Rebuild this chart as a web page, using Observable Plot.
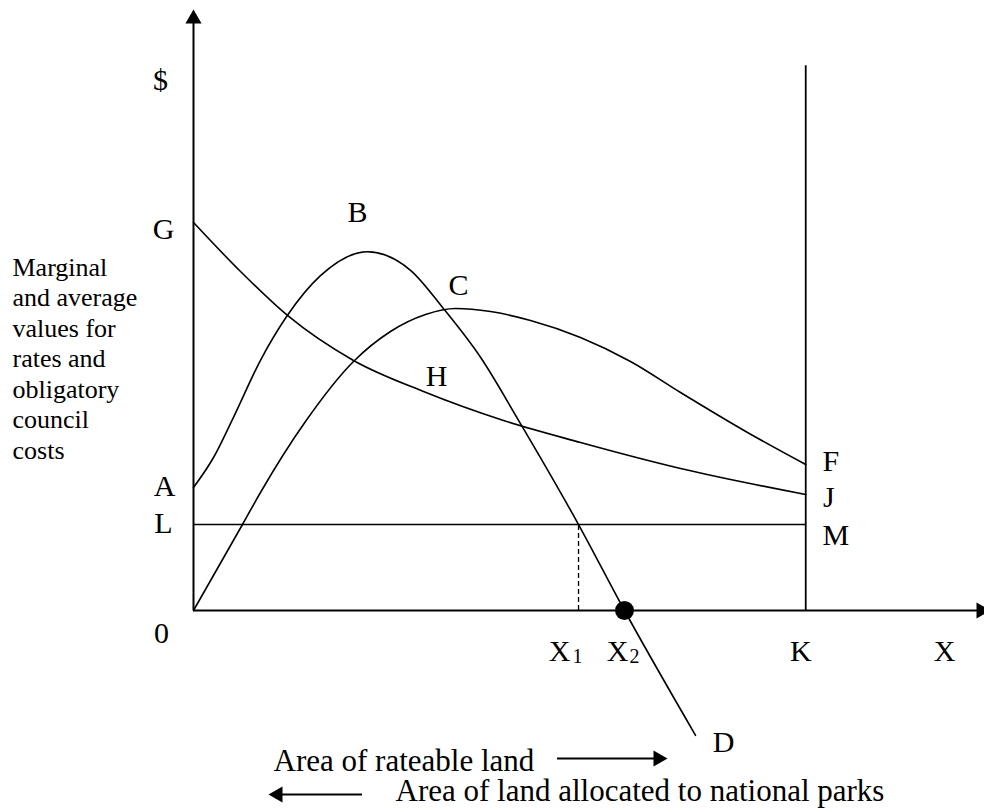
<!DOCTYPE html>
<html>
<head>
<meta charset="utf-8">
<script src="https://cdn.jsdelivr.net/npm/d3@7"></script>
<script src="https://cdn.jsdelivr.net/npm/@observablehq/plot@0.6"></script>
<style>
  html, body { margin: 0; padding: 0; background: #fff; overflow: hidden; }
</style>
</head>
<body>
<div id="chart"></div>
<script>
// ---- Data (arbitrary conceptual units) ----
// Marginal curve A – B – D
const marginalX = [0, 3.27, 6.53, 10.94, 15.35, 20.74, 28.42, 35.45, 40.84, 46.88, 53.09, 62.89, 70.4, 82.0];
const marginalY = [20.5, 25.5, 32.2, 41.7, 49.2, 55.8, 59.8, 56.7, 50.3, 42.2, 31.7, 14.33, 0, -20.8];
// Average curve 0 – C – F
const averageX = [0, 8.0, 10.94, 18.29, 26.13, 32.18, 37.9, 42.8, 48.51, 55.05, 63.21, 71.38, 79.55, 90.49, 100];
const averageY = [0, 14.33, 19.67, 31.5, 41.5, 46.5, 49.33, 50.33, 49.83, 48.33, 45.5, 41.5, 36.33, 29.67, 24.33];
// Cost curve G – H – J
const costX = [0, 7.68, 15.35, 26.13, 37.57, 50.64, 63.21, 79.55, 100];
const costY = [64.67, 56.5, 49.17, 41.67, 36.5, 31.67, 28.0, 23.67, 19.33];
// Levels and positions
const levelL = 14.33;        // L – M
const xK = 100;              // K
const kTop = 90.8;           // top of vertical line at K
const xX1 = 62.89;           // X1
const xX2 = 70.4;            // X2
const xEnd = 129.2;          // x-axis extent
const yEnd = 100;            // y-axis extent
// Tick labels on the x axis
const tickNames = ["X", "X", "K", "X"];
const tickSubs = ["1", "2", "", ""];
const tickValues = [xX1, xX2, xK, xEnd];
// Texts
const yTitle = "Marginal\nand average\nvalues for\nrates and\nobligatory\ncouncil\ncosts";
const arrowTexts = ["Area of rateable land", "Area of land allocated to national parks"];

// ---- Build ----
const pts = (xs, ys) => xs.map((x, i) => ({x, y: ys[i]}));
const marginal = pts(marginalX, marginalY);
const average = pts(averageX, averageY);
const cost = pts(costX, costY);
const serif = "'Liberation Serif','Times New Roman',serif";
const peakM = marginal[marginalY.indexOf(d3.max(marginalY))];
const peakA = average[averageY.indexOf(d3.max(averageY))];

function label(t, x, y, dx, dy, size = 30, anchor = "middle") {
  return Plot.text([{x, y}], {x: "x", y: "y", text: () => t, dx, dy, fontSize: size,
    textAnchor: anchor, lineAnchor: "middle", fontFamily: serif, fill: "black"});
}

const tickDx = [-19, -7, -5, -40];
const subDx = [-1, 10, 0, 0];

const marks = [
  // axes
  Plot.ruleX([0], {y1: 0, y2: 98.6, stroke: "black", strokeWidth: 2}),
  Plot.ruleY([0], {x1: 0, x2: 128.6, stroke: "black", strokeWidth: 2}),
  Plot.dot([{x: 0, y: 98.6}], {x: "x", y: "y", symbol: "triangle", r: 6, fill: "black", stroke: null}),
  Plot.dot([{x: 128.66, y: 0}], {x: "x", y: "y", symbol: "triangle", r: 6, fill: "black", stroke: null, rotate: 90}),
  // K vertical, L-M horizontal, dashed X1
  Plot.ruleX([xK], {y1: 0, y2: kTop, stroke: "black", strokeWidth: 1.8}),
  Plot.ruleY([levelL], {x1: 0, x2: xK, stroke: "black", strokeWidth: 1.6}),
  Plot.ruleX([xX1], {y1: 0, y2: levelL, stroke: "black", strokeWidth: 1.3, strokeDasharray: "5,3"}),
  // curves
  Plot.line(cost, {x: "x", y: "y", curve: "monotone-x", stroke: "black", strokeWidth: 1.6}),
  Plot.line(average, {x: "x", y: "y", curve: "monotone-x", stroke: "black", strokeWidth: 1.6}),
  Plot.line(marginal, {x: "x", y: "y", curve: "monotone-x", stroke: "black", strokeWidth: 1.6}),
  // X2 point
  Plot.dot([{x: xX2, y: 0}], {x: "x", y: "y", r: 9.5, fill: "black", stroke: null}),
  // point labels
  label("$", 0, yEnd, -33, 70),
  label("G", 0, costY[0], -30, 7),
  label("A", 0, marginalY[0], -29, -1),
  label("L", 0, levelL, -30, -1),
  label("0", 0, 0, -32, 23),
  label("B", peakM.x, peakM.y, -10, -39),
  label("C", peakA.x, peakA.y, 3, -23),
  label("H", costX[4], costY[4], 13, -15),
  label("D", marginalX[marginalX.length - 1], marginalY[marginalY.length - 1], 28, 7),
  label("F", xK, averageY[averageY.length - 1], 25, -3),
  label("J", xK, costY[costY.length - 1], 23, 3),
  label("M", xK, levelL, 30, 11),
  // x tick labels
  ...tickNames.map((t, i) => label(t, tickValues[i], 0, tickDx[i], 41)),
  ...tickSubs.map((t, i) => t ? label(t, tickValues[i], 0, subDx[i], 46, 20) : null).filter(Boolean),
  // y title
  Plot.text([yTitle], {frameAnchor: "left", dx: -181, dy: 47, textAnchor: "start", lineAnchor: "middle",
    lineHeight: 1.173, fontSize: 26, fontFamily: serif, fill: "black"}),
  // bottom arrows + texts
  Plot.text([arrowTexts[0]], {frameAnchor: "bottom-left", dx: 80, dy: 151, textAnchor: "start", lineAnchor: "middle",
    fontSize: 31, fontFamily: serif, fill: "black"}),
  Plot.text([arrowTexts[1]], {frameAnchor: "bottom-left", dx: 202, dy: 181, textAnchor: "start", lineAnchor: "middle",
    fontSize: 31, fontFamily: serif, fill: "black"}),
  Plot.ruleY([-24.67], {x1: 59.46, x2: 75.9, stroke: "black", strokeWidth: 2}),
  Plot.dot([{x: 75.9, y: -24.67}], {x: "x", y: "y", symbol: "triangle", r: 6, fill: "black", stroke: null, rotate: 90}),
  Plot.ruleY([-30.67], {x1: 13.77, x2: 27.6, stroke: "black", strokeWidth: 2}),
  Plot.dot([{x: 13.77, y: -30.67}], {x: "x", y: "y", symbol: "triangle", r: 6, fill: "black", stroke: null, rotate: -90})
];

const chart = Plot.plot({
  width: 984,
  height: 809,
  marginLeft: 193,
  marginRight: 0,
  marginTop: 10,
  marginBottom: 199,
  x: {domain: [0, xEnd], axis: null},
  y: {domain: [0, yEnd], axis: null},
  style: {fontFamily: serif, background: "white", color: "black"},
  marks
});
document.getElementById("chart").appendChild(chart);
</script>
</body>
</html>
